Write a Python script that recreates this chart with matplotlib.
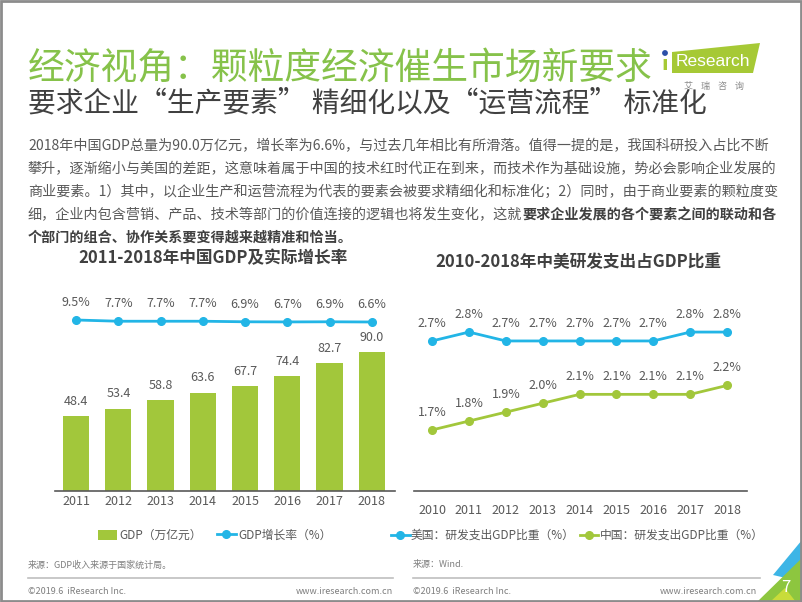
import matplotlib
matplotlib.use("Agg")
import matplotlib.pyplot as plt
from matplotlib.patches import Polygon, Rectangle

plt.rcParams['font.family'] = ['Noto Sans CJK SC', 'DejaVu Sans']

# data
gdp_years = ['2011', '2012', '2013', '2014', '2015', '2016', '2017', '2018']
gdp = [48.4, 53.4, 58.8, 63.6, 67.7, 74.4, 82.7, 90.0]
gdp_growth = [9.5, 7.7, 7.7, 7.7, 6.9, 6.7, 6.9, 6.6]

rd_years = ['2010', '2011', '2012', '2013', '2014', '2015', '2016', '2017', '2018']
rd_us = [2.7, 2.8, 2.7, 2.7, 2.7, 2.7, 2.7, 2.8, 2.8]
rd_cn = [1.7, 1.8, 1.9, 2.0, 2.1, 2.1, 2.1, 2.1, 2.2]

title = '经济视角：颗粒度经济催生市场新要求'
subtitle = '要求企业“生产要素” 精细化以及“运营流程” 标准化'
para = [
    '2018年中国GDP总量为90.0万亿元，增长率为6.6%，与过去几年相比有所滑落。值得一提的是，我国科研投入占比不断',
    '攀升，逐渐缩小与美国的差距，这意味着属于中国的技术红时代正在到来，而技术作为基础设施，势必会影响企业发展的',
    '商业要素。1）其中，以企业生产和运营流程为代表的要素会被要求精细化和标准化；2）同时，由于商业要素的颗粒度变',
    '细，企业内包含营销、产品、技术等部门的价值连接的逻辑也将发生变化，这就',
]
para_bold = ['要求企业发展的各个要素之间的联动和各', '个部门的组合、协作关系要变得越来越精准和恰当。']

GREEN = '#A2C73B'
BLUE = '#22B5E6'
TITLE_GREEN = '#86C24A'
GRAY = '#595959'
W, H = 802, 602

fig = plt.figure(figsize=(W / 100, H / 100), dpi=100)

# overlay in pixel coords for page texts / decorations
ov = fig.add_axes([0, 0, 1, 1])
ov.set_xlim(0, W)
ov.set_ylim(H, 0)
ov.axis('off')

ov.text(28, 68, title, fontsize=26.5, color=TITLE_GREEN, va='center', ha='left')
ov.text(28, 104, subtitle, fontsize=20, color='#404040', va='center', ha='left')

ys = [146, 169, 192, 215, 238]
for i, line in enumerate(para):
    t = ov.text(28, ys[i], line, fontsize=10.15, color=GRAY, va='center', ha='left')
ov.annotate(para_bold[0], xy=(1, 0.5), xycoords=t, va='center', ha='left',
            fontsize=10.15, color='#404040', fontweight='bold')
ov.text(28, ys[4], para_bold[1], fontsize=10.15, color='#404040', fontweight='bold',
        va='center', ha='left')

# logo
ov.add_patch(Polygon([(672, 52), (760, 43), (753, 73), (672, 73)], closed=True,
                     color='#A6C935', lw=0))
ov.text(713, 61, 'Research', color='white', fontsize=12.5, ha='center', va='center',
        family=['Liberation Sans', 'DejaVu Sans'])
ov.text(665, 64, 'ı', color='#A6C935', fontsize=14, ha='center', va='center', fontweight='bold')
ov.add_patch(plt.Circle((665, 53), 2.2, color='#2B4FA8'))
ov.text(714, 86, '艾    瑞    咨    询', color='#8a8a8a', fontsize=6.5, ha='center', va='center')

# chart titles
ov.text(213, 258, '2011-2018年中国GDP及实际增长率', fontsize=12, fontweight='bold',
        color='#404040', ha='center', va='center')
ov.text(578, 262, '2010-2018年中美研发支出占GDP比重', fontsize=12, fontweight='bold',
        color='#404040', ha='center', va='center')

# sources and footer
ov.text(28, 565, '来源：GDP收入来源于国家统计局。', fontsize=6.5, color='#7f7f7f', va='center')
ov.text(413, 565, '来源：Wind.', fontsize=6.5, color='#7f7f7f', va='center')
ov.plot([28, 393], [578, 578], color='#bfbfbf', lw=1.2)
ov.plot([413, 760], [578, 578], color='#bfbfbf', lw=1.2)
for x0, x1 in [(28, 393), (413, 757)]:
    ov.text(x0, 591, '©2019.6  iResearch Inc.', fontsize=6.5, color='#7f7f7f', va='center')
    ov.text(x1, 591, 'www.iresearch.com.cn', fontsize=6.5, color='#7f7f7f', va='center', ha='right')

# corner decoration
ov.add_patch(Polygon([(773, 575), (802, 540), (802, 560), (786, 578)], closed=True, color='#3DB5E6', lw=0))
ov.add_patch(Polygon([(757, 602), (802, 558), (802, 602)], closed=True, color='#8DC63F', lw=0))
ov.add_patch(Polygon([(770, 602), (785, 588), (796, 602)], closed=True, color='#C8DC3A', lw=0))
ov.text(786, 588, '7', color='white', fontsize=12, ha='center', va='center')

# border
ov.add_patch(Rectangle((1, 1), W - 2, H - 2, fill=False, ec='#8c8c8c', lw=2))

# left chart: GDP bars + growth line
ax1 = fig.add_axes([55 / W, 1 - 491 / H, 340 / W, 211 / H])
x1 = list(range(len(gdp_years)))
bars = ax1.bar(x1, gdp, width=0.62, color=GREEN, label='GDP（万亿元）', zorder=2)
for xi, v in zip(x1, gdp):
    ax1.annotate(f'{v:.1f}', (xi, v), xytext=(0, 6), textcoords='offset points',
                 ha='center', va='bottom', fontsize=9, color=GRAY)
ax1.set_xlim(-0.5, 7.55)
ax1.set_ylim(0, 136.6)
ax1.set_xticks(x1)
ax1.set_xticklabels(gdp_years)
ax1.set_yticks([])
ax1.tick_params(axis='x', length=0, pad=3, labelsize=9, labelcolor=GRAY)
for s in ['top', 'right', 'left']:
    ax1.spines[s].set_visible(False)
ax1.spines['bottom'].set_color('#595959')
ax1.spines['bottom'].set_linewidth(1.2)
ax1.patch.set_alpha(0)

ax1b = ax1.twinx()
ln, = ax1b.plot(x1, gdp_growth, color=BLUE, lw=2, marker='o', ms=5.5,
                label='GDP增长率（%）', zorder=3)
for xi, v in zip(x1, gdp_growth):
    ax1b.annotate(f'{v}%', (xi, v), xytext=(0, 8), textcoords='offset points',
                  ha='center', va='bottom', fontsize=9, color=GRAY)
ax1b.set_ylim(-238.5, 67.5)
ax1b.axis('off')

ax1.legend(handles=[bars, ln], loc='center', bbox_to_anchor=(0.47, -0.21), ncol=2,
           frameon=False, fontsize=8.5, labelcolor=GRAY, handlelength=1.6,
           handletextpad=0.2, columnspacing=1.3, handleheight=0.9)

# right chart: R&D share lines
ax2 = fig.add_axes([414 / W, 1 - 491 / H, 333 / W, 211 / H])
x2 = list(range(len(rd_years)))
l_us, = ax2.plot(x2, rd_us, color=BLUE, lw=2, marker='o', ms=5.5, label='美国：研发支出GDP比重（%）')
l_cn, = ax2.plot(x2, rd_cn, color=GREEN, lw=2, marker='o', ms=5.5, label='中国：研发支出GDP比重（%）')
for series in (rd_us, rd_cn):
    for xi, v in zip(x2, series):
        ax2.annotate(f'{v}%', (xi, v), xytext=(0, 8), textcoords='offset points',
                     ha='center', va='bottom', fontsize=9, color=GRAY)
ax2.set_xlim(-0.49, 8.54)
ax2.set_ylim(1.014, 3.385)
ax2.set_xticks(x2)
ax2.set_xticklabels(rd_years)
ax2.set_yticks([])
ax2.tick_params(axis='x', length=0, pad=9, labelsize=9, labelcolor=GRAY)
for s in ['top', 'right', 'left']:
    ax2.spines[s].set_visible(False)
ax2.spines['bottom'].set_color('#595959')
ax2.spines['bottom'].set_linewidth(1.2)
ax2.patch.set_alpha(0)
ax2.legend(handles=[l_us, l_cn], loc='center', bbox_to_anchor=(0.49, -0.21), ncol=2,
           frameon=False, fontsize=8.5, labelcolor=GRAY, handlelength=1.6,
           handletextpad=0.1, columnspacing=0.4)

fig.savefig('out.png', dpi=100)
